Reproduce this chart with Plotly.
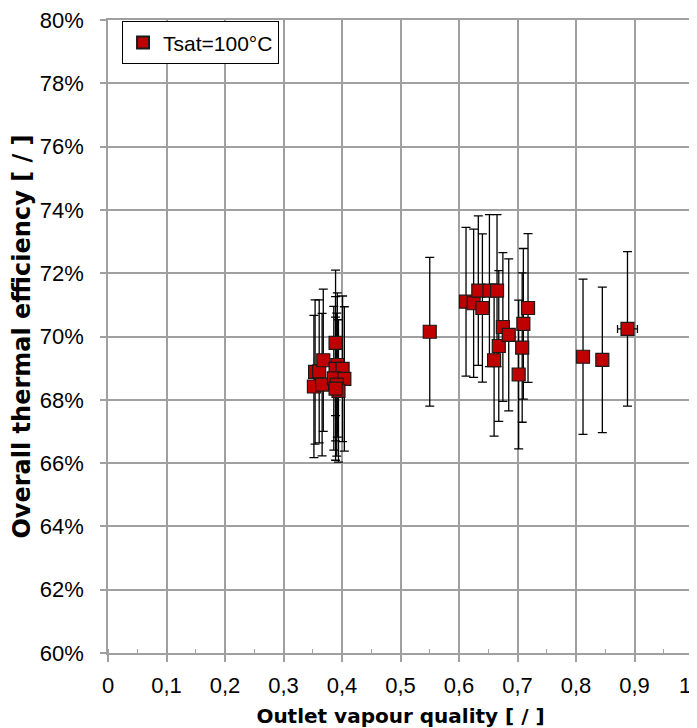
import plotly.graph_objects as go

# Data: outlet vapour quality [-], overall thermal efficiency [%]
quality = [0.352, 0.354, 0.361, 0.366, 0.368,
           0.389, 0.392, 0.389, 0.401, 0.386, 0.404, 0.391, 0.394, 0.389,
           0.55,
           0.612, 0.625, 0.633, 0.640, 0.652, 0.665, 0.660, 0.668, 0.675,
           0.685, 0.702, 0.708, 0.710, 0.718,
           0.812, 0.845, 0.888]
efficiency = [68.42, 68.88, 68.90, 68.48, 69.25,
              69.80, 69.10, 68.98, 68.98, 68.68, 68.66, 68.48, 68.28, 68.35,
              70.15,
              71.10, 71.05, 71.45, 70.90, 71.45, 71.45, 69.25, 69.70, 70.30,
              70.05, 68.80, 69.65, 70.40, 70.90,
              69.36, 69.26, 70.24]
eff_err = [2.25, 2.28, 2.26, 2.25, 2.25,
           2.30, 2.28, 2.28, 2.30, 2.27, 2.28, 2.26, 2.25, 2.26,
           2.35,
           2.35, 2.34, 2.36, 2.34, 2.40, 2.40, 2.40, 2.38, 2.35,
           2.40, 2.35, 2.36, 2.38, 2.35,
           2.45, 2.30, 2.44]
q_err = [0.005, 0.005, 0.005, 0.005, 0.005,
         0.005, 0.005, 0.005, 0.005, 0.005, 0.005, 0.005, 0.005, 0.005,
         0.007,
         0.007, 0.007, 0.007, 0.007, 0.007, 0.007, 0.007, 0.007, 0.007,
         0.007, 0.007, 0.007, 0.007, 0.007,
         0.010, 0.008, 0.017]

x_ticks = [0, 0.1, 0.2, 0.3, 0.4, 0.5, 0.6, 0.7, 0.8, 0.9, 1.0]
x_labels = ["0", "0,1", "0,2", "0,3", "0,4", "0,5", "0,6", "0,7", "0,8", "0,9", "1"]
y_ticks = [60, 62, 64, 66, 68, 70, 72, 74, 76, 78, 80]
y_labels = [f"{v}%" for v in y_ticks]

FONT = "Liberation Sans, Arial, sans-serif"
TFONT = "DejaVu Sans, Liberation Sans, sans-serif"
GRID = "#A0A0A0"

# last x label is drawn right-aligned at the plot edge so it stays inside the page
axis_text = x_labels[:-1] + [""]

fig = go.Figure()
fig.add_trace(go.Scatter(
    x=quality, y=efficiency, mode="markers", name="Tsat=100°C",
    marker=dict(symbol="square", size=13, color="#C00000",
                line=dict(color="#1a1a1a", width=1.2)),
    error_y=dict(type="data", array=eff_err, visible=True,
                 color="#000000", thickness=1.3, width=4.5),
    error_x=dict(type="data", array=q_err, visible=True,
                 color="#000000", thickness=1.3, width=4),
))

fig.add_annotation(x=x_ticks[-1], xref="x", y=0, yref="paper",
                   text=x_labels[-1], showarrow=False,
                   xanchor="right", yanchor="top", yshift=-18, xshift=0,
                   font=dict(family=FONT, size=22, color="#000000"))

# page body has an 8 px default margin, so the figure is sized to fit the window
fig.update_layout(
    width=689, height=720,
    margin=dict(l=100, r=4, t=12, b=75),
    paper_bgcolor="white", plot_bgcolor="white",
    font=dict(family=FONT, size=22, color="#000000"),
    showlegend=True,
    legend=dict(x=0.024, y=0.998, xanchor="left", yanchor="top",
                bgcolor="white", bordercolor="#000000", borderwidth=1,
                font=dict(family=FONT, size=21, color="#000000"),
                itemsizing="constant", itemwidth=30),
    xaxis=dict(range=[0, 1], tickmode="array", tickvals=x_ticks, ticktext=axis_text,
               automargin=False, ticklabeloverflow="allow",
               showgrid=True, gridcolor=GRID, gridwidth=1.5,
               showline=True, linecolor=GRID, linewidth=1.5, mirror=True,
               ticks="outside", ticklen=7, tickcolor=GRID, tickwidth=1.5,
               ticklabelstandoff=5,
               minor=dict(dtick=0.05, ticks="inside", ticklen=4, tickcolor=GRID,
                          tickwidth=1.2, showgrid=False),
               zeroline=False,
               title=dict(text="<b>Outlet vapour quality [ / ]</b>", standoff=12,
                          font=dict(family=TFONT, size=20))),
    yaxis=dict(range=[60, 80], tickmode="array", tickvals=y_ticks, ticktext=y_labels,
               automargin=False, ticklabeloverflow="allow",
               showgrid=True, gridcolor=GRID, gridwidth=1.5,
               showline=True, linecolor=GRID, linewidth=1.5, mirror=True,
               ticks="outside", ticklen=6, tickcolor=GRID, tickwidth=1.5,
               ticklabelstandoff=12,
               zeroline=False,
               title=dict(text="<b>Overall thermal efficiency [ / ]</b>", standoff=3,
                          font=dict(family=TFONT, size=24))),
)

fig.write_html("out.html")
